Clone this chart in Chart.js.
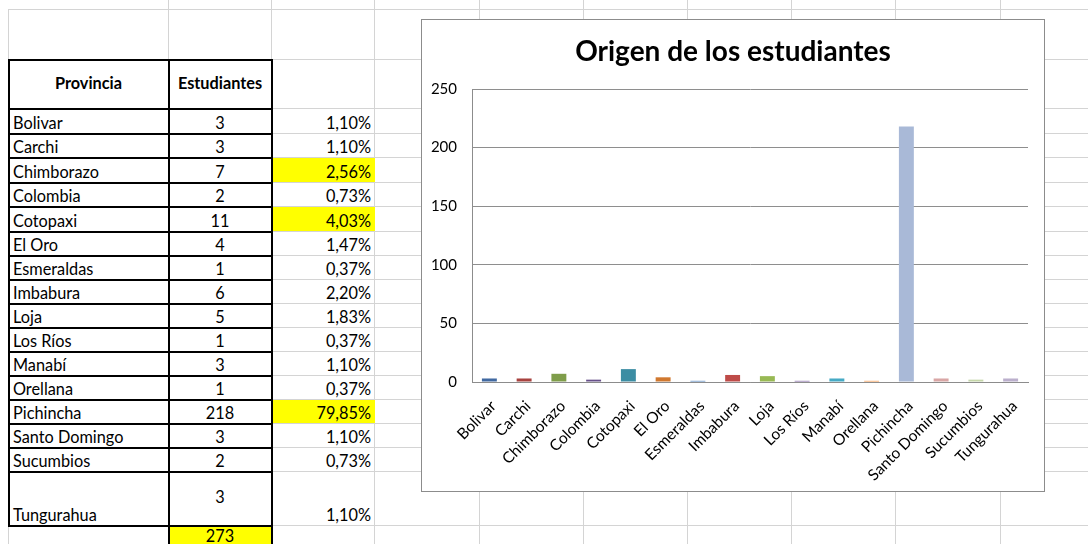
<!DOCTYPE html>
<html>
<head>
<meta charset="utf-8">
<script src="https://cdn.jsdelivr.net/npm/chart.js@4/dist/chart.umd.min.js"></script>
<style>
  html, body { margin: 0; padding: 0; background: #fff; }
  body { width: 1088px; height: 544px; overflow: hidden; position: relative; font-family: Lato, sans-serif; font-size: 16.3px; color: #000; }
  .gl { position: absolute; background: #d4d4d4; }
  .bl { position: absolute; background: #000; }
  .fill { position: absolute; background: #ffff00; }
  .cell { position: absolute; display: flex; box-sizing: border-box; padding: 0 4px 2px 4px; white-space: nowrap; line-height: 1; }
  #chartBox { position: absolute; left: 421px; top: 19px; width: 624px; height: 473px; box-sizing: border-box; border: 1px solid #8c8c8c; background: #fff; z-index: 5; }
</style>
</head>
<body>
<div id="sheet"></div>
<div id="chartBox"><canvas id="graphCanvas"></canvas></div>
<script>
// datos
const provincias = ['Bolivar', 'Carchi', 'Chimborazo', 'Colombia', 'Cotopaxi', 'El Oro', 'Esmeraldas', 'Imbabura',
  'Loja', 'Los Ríos', 'Manabí', 'Orellana', 'Pichincha', 'Santo Domingo', 'Sucumbios', 'Tungurahua'];
const estudiantes = [3, 3, 7, 2, 11, 4, 1, 6, 5, 1, 3, 1, 218, 3, 2, 3];
const porcentajes = ['1,10%', '1,10%', '2,56%', '0,73%', '4,03%', '1,47%', '0,37%', '2,20%',
  '1,83%', '0,37%', '1,10%', '0,37%', '79,85%', '1,10%', '0,73%', '1,10%'];
const resaltados = ['Chimborazo', 'Cotopaxi', 'Pichincha'];
const total = 273;
const colores = ['#4169A1', '#A8423F', '#7F9D4A', '#67508A', '#3C8DA3', '#D0782F', '#4A7EBB', '#BE4B48',
  '#98B954', '#7D60A0', '#46AAC5', '#F69240', '#A9B9D7', '#D9A6A5', '#C5D6A9', '#BBAFCC'];

// hoja de calculo
const rowLines = [9, 59, 108, 133, 157, 182, 206, 231, 255, 279, 303, 327, 351, 375, 399, 423, 447, 471, 525, 549];
const colLines = [8, 168, 271, 374, 479, 583, 687, 791, 895, 1000];
const sheet = document.getElementById('sheet');

function add(cls, x, y, w, h, text, css) {
  const d = document.createElement('div');
  d.className = cls;
  d.style.left = x + 'px';
  d.style.top = y + 'px';
  d.style.width = w + 'px';
  d.style.height = h + 'px';
  if (text !== undefined) d.textContent = text;
  if (css) Object.assign(d.style, css);
  sheet.appendChild(d);
  return d;
}

rowLines.forEach(y => add('gl', 8, y, 1088, 1));
colLines.forEach(x => add('gl', x, x === 8 ? 9 : 0, 1, 544));

// relleno amarillo
provincias.forEach((p, i) => {
  if (resaltados.includes(p)) add('fill', 272, rowLines[2 + i] + 1, 103, rowLines[3 + i] - rowLines[2 + i] - 1);
});
add('fill', 169, 526, 102, 23);

// bordes negros
for (let k = 1; k <= 18; k++) add('bl', 8, rowLines[k], 264, 1.5);
[8, 168, 271].forEach(x => add('bl', x, 59, 1.5, 466));
[168, 271].forEach(x => add('bl', x, 525, 1.5, 24));

// encabezado
const hCss = { alignItems: 'center', justifyContent: 'center', fontWeight: 'bold', padding: '0 0 1px 0' };
add('cell', 9, 60, 159, 48, 'Provincia', hCss);
add('cell', 169, 60, 102, 48, 'Estudiantes', hCss);

provincias.forEach((p, i) => {
  const y0 = rowLines[2 + i] + 1, h = rowLines[3 + i] - rowLines[2 + i] - 1;
  add('cell', 9, y0, 159, h, p, { alignItems: 'flex-end' });
  add('cell', 169, y0, 102, h, String(estudiantes[i]), { alignItems: i === 15 ? 'center' : 'flex-end', justifyContent: 'center' });
  add('cell', 272, y0, 102, h, porcentajes[i], { alignItems: 'flex-end', justifyContent: 'flex-end', paddingRight: '3px' });
});
add('cell', 169, 526, 102, 23, String(total), { alignItems: 'center', justifyContent: 'center' });

// grafico
const ctx = document.getElementById('graphCanvas').getContext('2d');
new Chart(ctx, {
  type: 'bar',
  data: {
    labels: provincias,
    datasets: [{
      data: estudiantes,
      backgroundColor: colores,
      borderWidth: 0,
      barPercentage: 0.43,
      categoryPercentage: 1
    }]
  },
  options: {
    responsive: true,
    maintainAspectRatio: false,
    animation: false,
    layout: { padding: 0 },
    plugins: {
      legend: { display: false },
      tooltip: { enabled: false },
      title: {
        display: true,
        text: 'Origen de los estudiantes',
        color: '#000',
        font: { family: 'Lato', size: 28, weight: 'bold', lineHeight: 1.2 },
        padding: { top: 15.2, bottom: 20.2 }
      }
    },
    scales: {
      x: {
        grid: { display: false },
        border: { display: true, color: '#8c8c8c' },
        ticks: { color: '#000', font: { family: 'Lato', size: 15.5 }, minRotation: 45, maxRotation: 45, autoSkip: false, padding: 7, labelOffset: 4 },
        // deja 16px libres a la derecha sin mover el titulo
        afterFit(s) { s.height = 109; s.paddingRight = 16; }
      },
      y: {
        min: 0,
        max: 250,
        ticks: { stepSize: 50, color: '#000', font: { family: 'Lato', size: 15 }, padding: 15 },
        grid: { color: '#8e8e8e', drawTicks: false },
        border: { display: true, color: '#8c8c8c' },
        afterFit(s) { s.width = 50; }
      }
    }
  }
});
</script>
</body>
</html>
